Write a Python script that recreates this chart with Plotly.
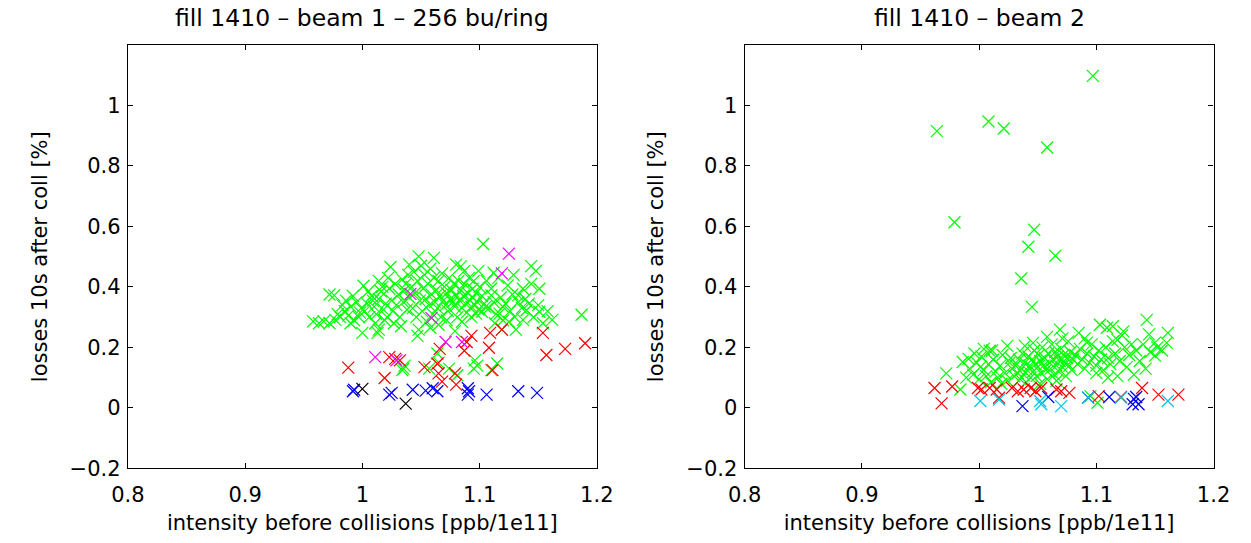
import plotly.graph_objects as go

# ---------------- data: beam 1 ----------------
b1_green = [
    (1.103,0.542),(1.048,0.501),(1.061,0.496),(1.024,0.466),(1.040,0.474),(1.080,0.474),(1.084,0.468),
    (1.087,0.453),(1.099,0.453),(1.112,0.447),(1.144,0.469),(1.148,0.453),(1.129,0.440),(1.144,0.410),
    (1.151,0.394),(1.137,0.394),(1.133,0.372),(1.162,0.291),(1.187,0.308),(1.151,0.318),(1.140,0.323),
    (1.137,0.291),(1.131,0.259),(1.119,0.259),(1.117,0.312),(1.120,0.334),(1.110,0.372),(1.105,0.334),
    (1.102,0.318),(1.094,0.394),(1.097,0.312),(1.093,0.300),(1.079,0.254),(1.047,0.238),(1.048,0.259),
    (1.014,0.259),(1.013,0.248),(1.000,0.248),(1.001,0.404),(1.014,0.420),(0.972,0.375),(0.976,0.372),
    (0.958,0.286),(0.963,0.280),(0.967,0.286),(0.972,0.280),(0.977,0.291),
    (1.035,0.130),(1.036,0.140),(1.034,0.125),(1.057,0.130),(1.064,0.180),(1.065,0.150),(1.074,0.130),
    (1.081,0.108),(1.095,0.130),(1.098,0.140),(1.110,0.125),(1.115,0.147),(1.096,0.157),
    (0.981,0.300),(0.985,0.320),(0.988,0.305),(0.990,0.335),(0.993,0.290),(0.995,0.350),(0.998,0.315),
    (0.983,0.340),(0.979,0.310),(0.986,0.355),(0.992,0.370),(0.997,0.300),(0.999,0.330),(0.990,0.280),
    (1.002,0.320),(1.004,0.345),(1.006,0.300),(1.008,0.370),(1.010,0.335),(1.012,0.310),(1.014,0.360),
    (1.016,0.385),(1.018,0.325),(1.020,0.345),(1.021,0.300),(1.023,0.395),(1.025,0.355),(1.026,0.320),
    (1.028,0.410),(1.029,0.340),(1.031,0.375),(1.032,0.300),(1.034,0.425),(1.035,0.350),(1.036,0.390),
    (1.038,0.325),(1.039,0.440),(1.040,0.365),(1.005,0.385),(1.011,0.280),(1.019,0.290),(1.027,0.280),
    (1.033,0.270),(1.037,0.410),(1.022,0.430),(1.009,0.355),(1.017,0.400),
    (1.042,0.400),(1.043,0.330),(1.044,0.450),(1.045,0.380),(1.046,0.300),(1.047,0.420),(1.049,0.355),
    (1.050,0.470),(1.051,0.320),(1.052,0.395),(1.053,0.440),(1.054,0.360),(1.055,0.285),(1.056,0.410),
    (1.057,0.340),(1.058,0.460),(1.059,0.375),(1.060,0.310),(1.061,0.430),(1.062,0.350),(1.063,0.390),
    (1.064,0.330),(1.065,0.420),(1.066,0.370),(1.067,0.300),(1.068,0.445),(1.069,0.355),(1.070,0.400),
    (1.071,0.340),(1.072,0.380),(1.073,0.320),(1.074,0.430),(1.075,0.360),(1.076,0.390),(1.077,0.350),
    (1.078,0.410),(1.079,0.335),(1.080,0.370),(1.081,0.300),(1.082,0.420),(1.083,0.355),(1.084,0.390),
    (1.085,0.330),(1.086,0.370),(1.087,0.410),(1.088,0.345),(1.089,0.315),(1.090,0.380),(1.091,0.430),
    (1.092,0.355),(1.093,0.335),(1.094,0.365),(1.095,0.420),(1.096,0.340),(1.097,0.380),(1.098,0.350),
    (1.099,0.325),(1.100,0.400),(1.065,0.275),(1.072,0.290),(1.085,0.285),(1.058,0.265),
    (1.102,0.370),(1.104,0.345),(1.106,0.420),(1.108,0.330),(1.110,0.395),(1.112,0.350),(1.114,0.310),
    (1.116,0.430),(1.118,0.365),(1.120,0.290),(1.122,0.345),(1.124,0.405),(1.126,0.320),(1.128,0.375),
    (1.130,0.300),(1.133,0.350),(1.136,0.330),(1.139,0.360),(1.142,0.345),(1.146,0.300),(1.150,0.340),
    (1.154,0.280),(1.158,0.320),(1.125,0.285),(1.113,0.280),
]
b1_red = [
    (0.988,0.133),(1.019,0.099),(1.023,0.168),(1.028,0.162),(1.032,0.157),(1.053,0.135),(1.064,0.146),
    (1.065,0.114),(1.068,0.087),(1.066,0.195),(1.079,0.114),(1.080,0.077),(1.087,0.189),(1.089,0.218),
    (1.093,0.238),(1.108,0.199),(1.109,0.248),(1.119,0.259),(1.111,0.125),(1.154,0.248),(1.157,0.175),
    (1.173,0.195),(1.190,0.214),
]
b1_magenta = [
    (1.125,0.510),(1.119,0.445),(1.041,0.377),(1.059,0.297),(1.071,0.218),(1.085,0.218),(1.011,0.168),
    (1.029,0.157),
]
b1_blue = [
    (0.992,0.055),(0.993,0.060),(1.023,0.044),(1.025,0.050),(1.043,0.060),(1.054,0.057),(1.060,0.065),
    (1.064,0.055),(1.090,0.065),(1.091,0.055),(1.090,0.044),(1.106,0.044),(1.133,0.055),(1.149,0.050),
]
b1_black = [(1.000,0.063),(1.037,0.014)]

# ---------------- data: beam 2 ----------------
b2_green = [
    (1.097,1.098),(0.964,0.915),(1.008,0.947),(1.021,0.924),(1.058,0.861),(0.979,0.614),(1.047,0.589),
    (1.042,0.533),(1.065,0.503),(1.036,0.428),(1.045,0.334),
    (0.972,0.114),(0.984,0.061),(0.986,0.152),(0.991,0.162),(1.004,0.195),(1.009,0.189),(1.024,0.205),
    (1.069,0.259),(1.085,0.248),(1.092,0.216),(1.103,0.275),(1.109,0.265),(1.114,0.270),(1.123,0.253),
    (1.143,0.291),(1.161,0.248),(1.145,0.243),(1.150,0.216),(1.146,0.184),(1.150,0.173),(1.095,0.039),
    (1.101,0.017),
    (0.992,0.130),(0.995,0.110),(0.998,0.150),(1.000,0.095),(1.002,0.170),(1.004,0.125),(1.006,0.105),
    (1.008,0.145),(1.010,0.085),(1.012,0.160),(1.014,0.120),(1.016,0.100),(1.018,0.140),(1.020,0.175),
    (1.022,0.115),(1.024,0.090),(1.026,0.150),(1.028,0.130),(1.030,0.105),(0.996,0.180),(1.001,0.135),
    (1.011,0.190),(1.019,0.080),(0.989,0.100),(1.027,0.165),
    (1.031,0.140),(1.033,0.115),(1.034,0.160),(1.035,0.095),(1.036,0.130),(1.037,0.180),(1.038,0.110),
    (1.039,0.150),(1.040,0.085),(1.041,0.125),(1.042,0.170),(1.043,0.140),(1.044,0.100),(1.045,0.160),
    (1.046,0.120),(1.047,0.190),(1.048,0.145),(1.049,0.105),(1.050,0.135),(1.051,0.175),(1.052,0.155),
    (1.053,0.115),(1.054,0.200),(1.055,0.140),(1.056,0.165),(1.057,0.125),(1.058,0.095),(1.059,0.180),
    (1.060,0.150),(1.061,0.130),(1.062,0.210),(1.063,0.160),(1.064,0.110),(1.065,0.185),(1.066,0.140),
    (1.067,0.170),(1.068,0.120),(1.069,0.155),(1.070,0.195),(1.071,0.135),(1.072,0.175),(1.073,0.150),
    (1.074,0.105),(1.075,0.165),(1.076,0.220),(1.077,0.140),(1.078,0.185),(1.079,0.125),(1.080,0.160),
    (1.052,0.080),(1.046,0.215),(1.066,0.090),(1.039,0.205),(1.071,0.230),(1.058,0.235),
    (1.082,0.175),(1.084,0.145),(1.086,0.195),(1.088,0.160),(1.090,0.130),(1.092,0.180),(1.094,0.150),
    (1.096,0.210),(1.098,0.170),(1.100,0.140),(1.102,0.190),(1.104,0.160),(1.106,0.125),(1.108,0.200),
    (1.110,0.165),(1.112,0.145),(1.114,0.220),(1.116,0.180),(1.118,0.105),(1.120,0.155),(1.122,0.240),
    (1.124,0.200),(1.126,0.135),(1.128,0.175),(1.130,0.210),(1.132,0.110),(1.134,0.190),(1.137,0.155),
    (1.140,0.210),(1.142,0.130),(1.152,0.200),(1.156,0.190),(1.160,0.215),(1.110,0.100),(1.100,0.115),
    (1.090,0.230),(1.118,0.225),
]
b2_red = [
    (0.962,0.066),(0.968,0.015),(0.977,0.071),(0.999,0.066),(1.002,0.061),(1.009,0.066),(1.015,0.061),
    (1.017,0.034),(1.028,0.066),(1.033,0.055),(1.038,0.061),(1.044,0.066),(1.048,0.055),(1.053,0.066),
    (1.066,0.061),(1.070,0.055),(1.077,0.050),(1.102,0.039),(1.121,0.036),(1.139,0.066),(1.153,0.044),
    (1.170,0.044),
]
b2_blue = [
    (1.037,0.006),(1.059,0.036),(1.093,0.034),(1.111,0.036),(1.132,0.030),(1.131,0.012),(1.136,0.012),
    (1.134,0.036),
]
b2_cyan = [
    (1.001,0.023),(1.017,0.028),(1.052,0.023),(1.053,0.012),(1.070,0.006),(1.093,0.034),(1.121,0.034),
    (1.161,0.023),
]

titles = ["fill 1410 \u2013 beam 1 \u2013 256 bu/ring", "fill 1410 \u2013 beam 2"]
x_label = "intensity before collisions [ppb/1e11]"
y_label = "losses 10s after coll [%]"
x_ticks = [0.8, 0.9, 1.0, 1.1, 1.2]
x_ticktext = ["0.8", "0.9", "1", "1.1", "1.2"]
y_ticks = [-0.2, 0, 0.2, 0.4, 0.6, 0.8, 1.0]
y_ticktext = ["\u22120.2", "0", "0.2", "0.4", "0.6", "0.8", "1"]

FONT = "DejaVu Sans"
W, H = 1251, 543

fig = go.Figure()

def add(points, color, xa, ya):
    fig.add_trace(go.Scatter(
        x=[p[0] for p in points], y=[p[1] for p in points], mode="markers",
        marker=dict(symbol="x-thin", size=12, color=color, line=dict(color=color, width=1.2)),
        xaxis=xa, yaxis=ya, showlegend=False, hoverinfo="skip"))

add(b1_green, "#00ff00", "x", "y")
add(b1_red, "#ff0000", "x", "y")
add(b1_magenta, "#ff00ff", "x", "y")
add(b1_blue, "#0000ff", "x", "y")
add(b1_black, "#000000", "x", "y")

add(b2_green, "#00ff00", "x2", "y2")
add(b2_red, "#ff0000", "x2", "y2")
add(b2_blue, "#0000ff", "x2", "y2")
add(b2_cyan, "#00c8e6", "x2", "y2")

ydom = [1 - 479 / H, 1 - 46 / H]
xdoms = [[114 / W, 596 / W], [748 / W, 1230 / W]]

axis_common = dict(showline=True, linecolor="black", linewidth=1.3, mirror="ticks",
                   ticks="inside", ticklen=5, tickwidth=1, tickcolor="black",
                   showgrid=False, zeroline=False,
                   tickfont=dict(family=FONT, size=21, color="black"))

layout = dict(width=W, height=H, margin=dict(l=0, r=0, t=0, b=0),
              paper_bgcolor="white", plot_bgcolor="white", showlegend=False)

for i, sfx in enumerate(["", "2"]):
    layout["xaxis" + sfx] = dict(axis_common, domain=xdoms[i], range=[0.8, 1.2],
                                 tickvals=x_ticks, ticktext=x_ticktext,
                                 anchor="y" + sfx, ticklabelstandoff=7,
                                 title=dict(text=x_label, font=dict(family=FONT, size=21, color="black"), standoff=9))
    layout["yaxis" + sfx] = dict(axis_common, domain=ydom, range=[-0.2, 1.2],
                                 tickvals=y_ticks, ticktext=y_ticktext,
                                 anchor="x" + sfx, ticklabelstandoff=2,
                                 title=dict(text=y_label, font=dict(family=FONT, size=21, color="black"), standoff=16))

fig.update_layout(**layout)

for i in range(2):
    fig.add_annotation(text=titles[i], xref="paper", yref="paper",
                       x=(xdoms[i][0] + xdoms[i][1]) / 2, y=1 - 18 / H,
                       xanchor="center", yanchor="middle", showarrow=False,
                       font=dict(family=FONT, size=23.5, color="black"))

fig.write_html("out.html")
